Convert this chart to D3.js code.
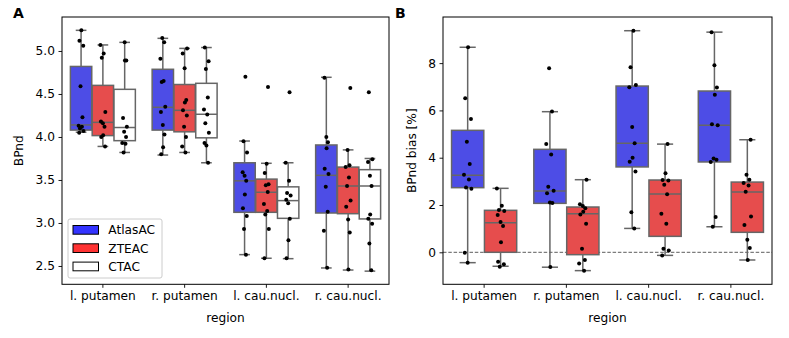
<!DOCTYPE html>
<html><head><meta charset="utf-8">
<script src="https://cdn.jsdelivr.net/npm/d3@7"></script>
<style>body{margin:0;background:#fff}svg{display:block}text{font-family:"DejaVu Sans",sans-serif}</style>
</head><body><svg id="c" width="789" height="338"></svg>
<script>
// ---------- data ----------
const regions = ["l. putamen", "r. putamen", "l. cau.nucl.", "r. cau.nucl."];
const methodsA = ["AtlasAC", "ZTEAC", "CTAC"];
const methodsB = ["AtlasAC", "ZTEAC"];
const yTicksA = [2.5, 3.0, 3.5, 4.0, 4.5, 5.0];
const yTicksB = [0, 2, 4, 6, 8];

// BPnd points per region
const bpndAtlasAC = [
  [5.24, 5.12, 5.06, 4.59, 4.23, 4.13, 4.12, 4.10, 4.07, 4.05],
  [5.15, 5.10, 4.91, 4.65, 4.64, 4.35, 4.29, 4.14, 4.03, 3.88, 3.80],
  [4.70, 3.95, 3.82, 3.59, 3.55, 3.49, 3.33, 3.17, 3.08, 2.93, 2.63],
  [4.69, 4.00, 3.94, 3.87, 3.63, 3.57, 3.42, 3.13, 2.91, 2.48]
];
const bpndZTEAC = [
  [5.07, 4.97, 4.92, 4.29, 4.18, 4.16, 4.12, 4.02, 4.00, 3.89],
  [5.03, 4.97, 4.80, 4.43, 4.40, 4.31, 4.25, 4.12, 4.00, 3.89, 3.82],
  [4.58, 3.69, 3.58, 3.45, 3.44, 3.36, 3.22, 3.14, 3.10, 2.93, 2.59],
  [4.57, 3.85, 3.67, 3.65, 3.53, 3.43, 3.26, 3.19, 3.04, 2.89, 2.46]
];
const bpndCTAC = [
  [5.10, 4.89, 4.89, 4.22, 4.12, 4.06, 4.00, 3.93, 3.92, 3.82],
  [5.04, 4.88, 4.79, 4.46, 4.32, 4.26, 4.16, 4.05, 3.93, 3.90, 3.70],
  [4.52, 3.70, 3.49, 3.35, 3.32, 3.27, 3.23, 3.05, 2.80, 2.59],
  [4.52, 3.74, 3.71, 3.55, 3.43, 3.10, 3.05, 2.99, 2.76, 2.45]
];
// box stats: [whisker low, q1, median, q3, whisker high]
const boxAtlasAC = [[4.055, 4.08, 4.14, 4.82, 5.24], [3.79, 4.08, 4.345, 4.787, 5.147], [2.632, 3.124, 3.49, 3.70, 3.953], [2.477, 3.116, 3.554, 3.907, 4.694]];
const boxZTEAC = [[3.89, 4.016, 4.17, 4.60, 5.07], [3.82, 4.06, 4.31, 4.61, 5.03], [2.59, 3.124, 3.357, 3.51, 3.694], [2.453, 3.108, 3.43, 3.65, 3.85]];
const boxCTAC = [[3.82, 3.957, 4.11, 4.554, 5.10], [3.70, 3.99, 4.264, 4.624, 5.04], [2.585, 3.054, 3.26, 3.42, 3.70], [2.44, 3.047, 3.43, 3.62, 3.75]];

// BPnd bias [%] points per region
const biasAtlasAC = [
  [8.67, 6.51, 5.64, 4.68, 3.73, 3.28, 3.08, 2.74, 2.69, -0.02, -0.44],
  [7.78, 5.95, 4.58, 4.14, 2.77, 2.60, 2.50, 2.11, 2.08, -0.62],
  [9.37, 7.82, 7.07, 6.98, 5.30, 4.61, 4.00, 3.83, 3.42, 1.69, 1.01],
  [9.31, 7.91, 6.97, 6.66, 5.41, 5.37, 3.97, 3.91, 3.82, 1.49, 1.08]
];
const biasZTEAC = [
  [2.70, 1.97, 1.79, 1.75, 1.58, 1.28, 1.11, 0.42, -0.40, -0.51, -0.61],
  [3.07, 2.03, 1.96, 1.86, 1.72, 1.60, 1.21, 0.15, -0.33, -0.47, -0.78],
  [4.58, 3.34, 3.06, 3.04, 2.86, 2.46, 1.63, 1.21, 0.15, 0.08, -0.13],
  [4.76, 3.28, 3.07, 2.93, 2.82, 2.56, 1.51, 1.15, 0.53, 0.18, -0.33]
];
const boxBiasAtlasAC = [[-0.438, 2.733, 3.254, 5.157, 8.67], [-0.63, 2.07, 2.59, 4.354, 5.946], [1.01, 3.61, 4.61, 7.03, 9.37], [1.08, 3.82, 5.37, 6.82, 9.31]];
const boxBiasZTEAC = [[-0.59, 0.0, 1.253, 1.775, 2.705], [-0.775, -0.10, 1.633, 1.915, 3.07], [-0.13, 0.675, 2.465, 3.057, 4.575], [-0.325, 0.845, 2.55, 2.97, 4.76]];

// ---------- styles ----------
const boxColors = {AtlasAC: "#4d4de6", ZTEAC: "#e64d4d", CTAC: "#ffffff"};
const legendColors = {AtlasAC: "#3333ff", ZTEAC: "#ff3333", CTAC: "#ffffff"};
const edge = "#666666";
const JIT = [0.1, -0.6, 0.8, -0.2, 0.5, -0.9, 0.3, -0.4, 0.9, -0.7, 0.0, 0.6];
const FS = 12.2;

const svg = d3.select("#c");

function panel(opt) {
  const {x0, x1, y0, y1, ydom, methods, pts, boxes, ticks, fmt, label, ylabel, ylabX, zero} = opt;
  const g = svg.append("g");
  const x = d3.scaleBand().domain(regions).range([x0, x1]).padding(0);
  const y = d3.scaleLinear().domain(ydom).range([y1, y0]);
  const bw = x.bandwidth();
  const n = methods.length;
  const hw = 0.8 * bw / n;
  const boxW = hw * 0.98;
  const center = (ri, mi) => x(regions[ri]) + bw / 2 + (mi - (n - 1) / 2) * hw;

  if (zero) {
    g.append("line").attr("x1", x0).attr("x2", x1).attr("y1", y(0)).attr("y2", y(0))
      .attr("stroke", "#333").attr("stroke-width", 0.8).attr("stroke-dasharray", "3.5,1.8");
  }
  methods.forEach((m, mi) => {
    regions.forEach((r, ri) => {
      const [wl, q1, med, q3, wh] = boxes[mi][ri];
      const cx = center(ri, mi);
      const gg = g.append("g").attr("stroke", edge).attr("stroke-width", 1.5);
      gg.append("line").attr("x1", cx).attr("x2", cx).attr("y1", y(q3)).attr("y2", y(wh));
      gg.append("line").attr("x1", cx).attr("x2", cx).attr("y1", y(q1)).attr("y2", y(wl));
      gg.append("line").attr("x1", cx - boxW / 4).attr("x2", cx + boxW / 4).attr("y1", y(wh)).attr("y2", y(wh));
      gg.append("line").attr("x1", cx - boxW / 4).attr("x2", cx + boxW / 4).attr("y1", y(wl)).attr("y2", y(wl));
      gg.append("rect").attr("x", cx - boxW / 2).attr("width", boxW)
        .attr("y", y(q3)).attr("height", y(q1) - y(q3)).attr("fill", boxColors[m]);
      gg.append("line").attr("x1", cx - boxW / 2).attr("x2", cx + boxW / 2).attr("y1", y(med)).attr("y2", y(med));
    });
  });
  const jl = 0.1 / n * bw;
  methods.forEach((m, mi) => {
    regions.forEach((r, ri) => {
      const cx = center(ri, mi);
      g.selectAll(null).data(pts[mi][ri]).enter().append("circle")
        .attr("cx", (d, i) => cx + JIT[(i + ri * 3 + mi * 5) % JIT.length] * jl)
        .attr("cy", d => y(d)).attr("r", 2).attr("fill", "#000");
    });
  });

  // axes
  const ya = g.append("g").attr("transform", `translate(${x0},0)`)
    .call(d3.axisLeft(y).tickValues(ticks).tickFormat(fmt).tickSize(3.5).tickPadding(3.5));
  ya.select(".domain").remove();
  ya.selectAll("line").attr("stroke", "#000").attr("stroke-width", 0.9);
  ya.selectAll("text").attr("font-size", FS).attr("fill", "#000").style("font-family", "DejaVu Sans");
  const xa = g.append("g").attr("transform", `translate(0,${y1})`)
    .call(d3.axisBottom(x).tickSize(3.5).tickPadding(3.5));
  xa.select(".domain").remove();
  xa.selectAll("line").attr("stroke", "#000").attr("stroke-width", 0.9);
  xa.selectAll("text").attr("font-size", FS).attr("fill", "#000").style("font-family", "DejaVu Sans");

  g.append("rect").attr("x", x0).attr("y", y0).attr("width", x1 - x0).attr("height", y1 - y0)
    .attr("fill", "none").attr("stroke", "#000").attr("stroke-width", 1);

  g.append("text").attr("x", (x0 + x1) / 2).attr("y", 322).attr("text-anchor", "middle")
    .attr("font-size", FS).text("region");
  g.append("text").attr("transform", `translate(${ylabX},${(y0 + y1) / 2}) rotate(-90)`)
    .attr("text-anchor", "middle").attr("font-size", FS).text(ylabel);
  g.append("text").attr("x", label.x).attr("y", 18).attr("font-size", 14).attr("font-weight", "bold").text(label.t);
  return {x, y};
}

panel({x0: 62, x1: 389, y0: 17, y1: 284.3, ydom: [2.287, 5.395], methods: methodsA,
  pts: [bpndAtlasAC, bpndZTEAC, bpndCTAC], boxes: [boxAtlasAC, boxZTEAC, boxCTAC],
  ticks: yTicksA, fmt: d3.format(".1f"), label: {x: 13, t: "A"}, ylabel: "BPnd", ylabX: 22.5, zero: false});

panel({x0: 443, x1: 772, y0: 17, y1: 284.3, ydom: [-1.353, 9.95], methods: methodsB,
  pts: [biasAtlasAC, biasZTEAC], boxes: [boxBiasAtlasAC, boxBiasZTEAC],
  ticks: yTicksB, fmt: d3.format("d"), label: {x: 395, t: "B"}, ylabel: "BPnd bias [%]", ylabX: 416, zero: true});

// legend
const lg = svg.append("g");
lg.append("rect").attr("x", 68).attr("y", 219).attr("width", 94).attr("height", 59).attr("rx", 2)
  .attr("fill", "#fff").attr("fill-opacity", 0.8).attr("stroke", "#cccccc").attr("stroke-width", 1);
methodsA.forEach((m, i) => {
  const yy = 225.5 + i * 18.3;
  lg.append("rect").attr("x", 73).attr("y", yy).attr("width", 25.5).attr("height", 8.7)
    .attr("fill", legendColors[m]).attr("stroke", "#000").attr("stroke-width", 1);
  lg.append("text").attr("x", 108.3).attr("y", yy + 8.8).attr("font-size", FS).text(m);
});
</script></body></html>
